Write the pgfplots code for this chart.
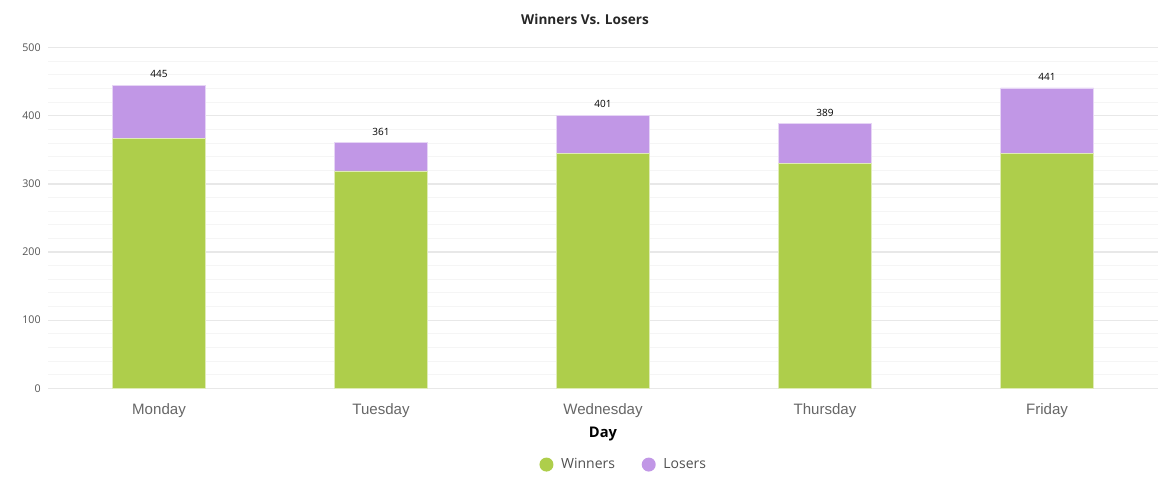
\documentclass[border=0pt]{standalone}
\usepackage{fontspec}
\setmainfont{Open Sans}
\newfontfamily\arialfont{Liberation Sans}
\usepackage{pgfplots}
\pgfplotsset{compat=1.18}
\definecolor{wgreen}{RGB}{174,206,75}
\definecolor{lpurple}{RGB}{193,151,230}
\definecolor{majgrid}{RGB}{232,232,232}
\definecolor{mingrid}{RGB}{245,245,245}
\definecolor{tickgray}{RGB}{102,102,102}
\definecolor{ytickgray}{RGB}{85,85,85}
\definecolor{leggray}{RGB}{80,80,80}
\begin{document}
\begin{tikzpicture}
\begin{axis}[
  scale only axis,
  width=832.5pt, height=255.45pt,
  ybar stacked,
  bar width=69.75pt,
  xmin=-0.5, xmax=4.5,
  ymin=0, ymax=500,
  xtick={0,1,2,3,4},
  xticklabels={Monday,Tuesday,Wednesday,Thursday,Friday},
  ytick={0,100,200,300,400,500},
  minor y tick num=4,
  ymajorgrids, yminorgrids,
  major grid style={majgrid, line width=0.9pt},
  minor grid style={mingrid, line width=0.75pt},
  axis line style={draw=none},
  major tick length=0pt, minor tick length=0pt,
  tick style={draw=none},
  /pgf/number format/assume math mode=true,
  yticklabel style={font=\fontsize{8}{9}\selectfont, text=ytickgray, xshift=-2pt},
  xticklabel style={font=\arialfont\fontsize{11.3}{13}\selectfont, text=tickgray, yshift=-8pt},
  xlabel={Day},
  xlabel style={font=\bfseries\fontsize{11}{13}\selectfont, at={(rel axis cs:0.5,0)}, anchor=center, yshift=-34.3pt},
  title={Winners Vs. Losers},
  title style={font=\bfseries\fontsize{10.2}{12}\selectfont, text=black!85, at={(rel axis cs:0.4838,1)}, anchor=center, yshift=15.5pt},
  legend columns=2,
  legend style={draw=none, fill=none, at={(rel axis cs:0.519,-0.224)}, anchor=center,
    font=\fontsize{10.5}{12}\selectfont, text=leggray,
    /tikz/every even column/.append style={column sep=18pt}},
  legend image code/.code={\fill[#1, draw=none] (0,0) circle (5.25pt); \path[draw=none, fill=none] (-5.25pt,0) -- (9pt,0);},
]
\addplot+[fill=wgreen, draw=white!60!wgreen, line width=0.5pt] coordinates {(0,367) (1,319) (2,345) (3,330) (4,345)};
\addlegendentry{Winners}
\addplot+[fill=lpurple, draw=white!60!lpurple, line width=0.5pt]
  coordinates {(0,78) (1,42) (2,56) (3,59) (4,96)};
\addlegendentry{Losers}
\addplot+[forget plot, draw=none, fill=none, nodes near coords, point meta=explicit symbolic,
  every node near coord/.style={font=\fontsize{7.5}{9}\selectfont, text=black, anchor=south, yshift=1.8pt}]
  coordinates {(0,0.01) [445] (1,0.01) [361] (2,0.01) [401] (3,0.01) [389] (4,0.01) [441]};
\end{axis}
\pgfresetboundingbox
\path[use as bounding box] (-36pt,-80.8pt) rectangle (840pt,291.2pt);
\end{tikzpicture}
\end{document}
